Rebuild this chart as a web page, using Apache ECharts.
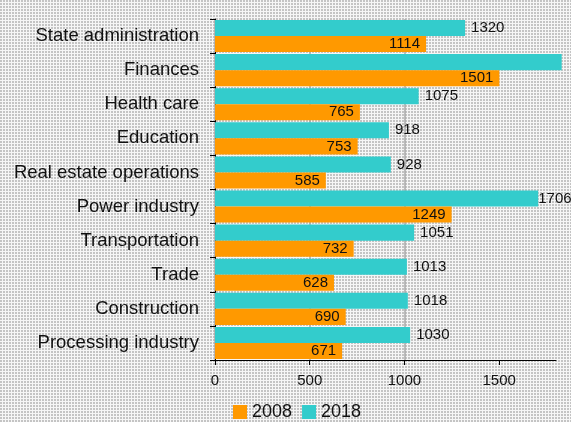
<!DOCTYPE html>
<html>
<head>
<meta charset="utf-8">
<script src="https://cdn.jsdelivr.net/npm/echarts@6/dist/echarts.min.js"></script>
<style>
html, body { margin: 0; padding: 0; }
#chart { width: 571px; height: 422px; }
</style>
</head>
<body>
<div id="chart"></div>
<script>
var categories = ['State administration', 'Finances', 'Health care', 'Education', 'Real estate operations',
    'Power industry', 'Transportation', 'Trade', 'Construction', 'Processing industry']
var data2008 = [1114, 1501, 765, 753, 585, 1249, 732, 628, 690, 671]
var data2018 = [1320, 1830, 1075, 918, 928, 1706, 1051, 1013, 1018, 1030]
var xTicks = [0, 500, 1000, 1500]

// dotted background tile
var tile = document.createElement('canvas')
tile.width = 3
tile.height = 3
var tctx = tile.getContext('2d')
tctx.fillStyle = '#f6f6f6'
tctx.fillRect(0, 0, 3, 3)
tctx.fillStyle = '#c4c4c4'
tctx.fillRect(0, 0, 2, 2)

var myChart = echarts.init(document.getElementById('chart'))
var font = 'Liberation Sans'

option = {
    backgroundColor: { image: tile, repeat: 'repeat' },
    animation: false,
    grid: {
        left: 215,
        right: 15,
        top: 19,
        bottom: 62
    },
    legend: {
        data: ['2008', '2018'],
        left: 228,
        top: 398,
        itemWidth: 14,
        itemHeight: 14,
        itemGap: 10,
        icon: 'rect',
        textStyle: { fontFamily: font, fontSize: 18, color: '#111' }
    },
    xAxis: {
        type: 'value',
        min: 0,
        max: 1800,
        interval: 500,
        axisLine: { show: true, lineStyle: { color: '#000', width: 1 } },
        axisTick: { show: true, length: 5, customValues: xTicks, lineStyle: { color: '#000' } },
        axisLabel: {
            fontFamily: font, fontSize: 15, color: '#111', margin: 13,
            customValues: xTicks,
            formatter: function (v) { return String(v) }
        },
        splitLine: { show: true, showMaxLine: false, lineStyle: { color: '#a8a8a8', width: 1.5 } }
    },
    yAxis: {
        type: 'category',
        inverse: true,
        data: categories,
        axisLine: { show: true, lineStyle: { color: '#000', width: 1 } },
        axisTick: { show: true, length: 5, lineStyle: { color: '#000' } },
        axisLabel: { fontFamily: font, fontSize: 18.5, color: '#111', margin: 16 },
        splitLine: { show: false }
    },
    series: [{
        name: '2018',
        type: 'bar',
        data: data2018.map(function (v, i) {
            if (i === 1) return { value: v, label: { show: false } }
            if (i === 5) return { value: v, label: { distance: 0 } }
            return v
        }),
        barGap: '0%',
        barCategoryGap: '6%',
        clip: false,
        itemStyle: { color: '#33CCCC' },
        label: {
            show: true, position: 'right', distance: 6,
            fontFamily: font, fontSize: 15, color: '#111'
        }
    }, {
        name: '2008',
        type: 'bar',
        data: data2008,
        barGap: '0%',
        barCategoryGap: '6%',
        itemStyle: { color: '#FF9900' },
        label: {
            show: true, position: 'insideRight', distance: 6,
            fontFamily: font, fontSize: 15, color: '#111'
        }
    }]
}
myChart.setOption(option)
</script>
</body>
</html>
